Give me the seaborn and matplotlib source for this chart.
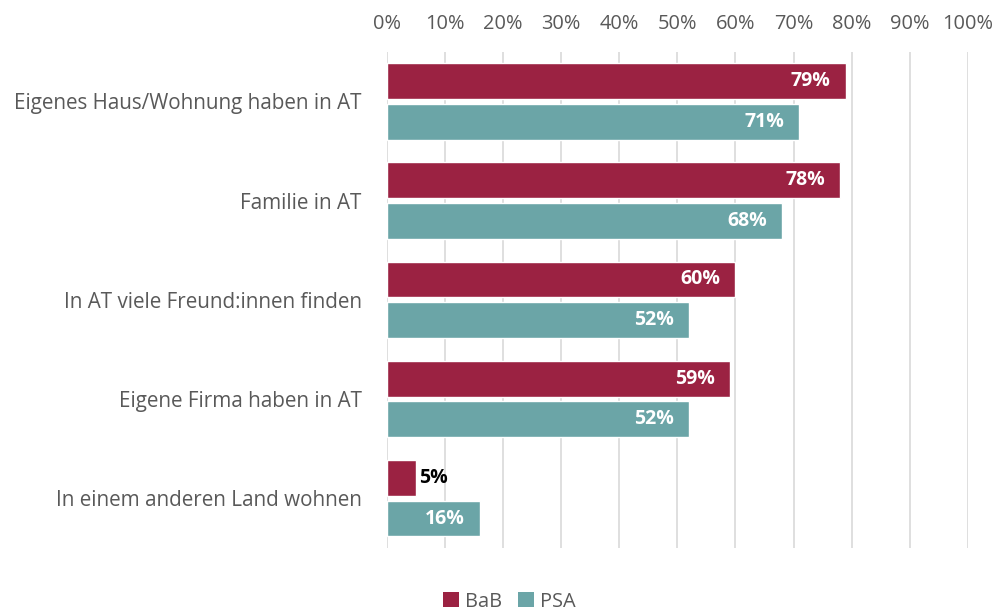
import matplotlib
matplotlib.use("Agg")
import matplotlib.pyplot as plt
import seaborn as sns
import pandas as pd
from matplotlib.patches import Patch

categories = ["Eigenes Haus/Wohnung haben in AT", "Familie in AT",
              "In AT viele Freund:innen finden", "Eigene Firma haben in AT",
              "In einem anderen Land wohnen"]
bab = [79, 78, 60, 59, 5]
psa = [71, 68, 52, 52, 16]
series = ["BaB", "PSA"]
xticks = list(range(0, 101, 10))

colors = {"BaB": "#9B2242", "PSA": "#6BA5A7"}

df = pd.DataFrame({
    "cat": categories * 2,
    "val": bab + psa,
    "series": ["BaB"] * len(bab) + ["PSA"] * len(psa),
})

sns.set_style("white")
plt.rcParams["font.family"] = ["Open Sans", "DejaVu Sans"]

fig = plt.figure(figsize=(9.99, 6.1), dpi=100)
ax = fig.add_axes([0.387, 0.102, 0.582, 0.813])

sns.barplot(data=df, y="cat", x="val", hue="series", order=categories,
            hue_order=series, palette=colors, orient="h", width=0.82,
            gap=0.12, ax=ax, legend=False, saturation=1)

ax.set_xlim(0, 100)
ax.set_ylim(len(categories) - 0.5, -0.5)
ax.set_xticks(xticks)
ax.set_xticklabels([f"{t}%" for t in xticks])
ax.xaxis.tick_top()
ax.tick_params(axis="x", length=0, pad=13, labelsize=14.4, labelcolor="#595959")
ax.tick_params(axis="y", length=0, pad=18, labelsize=14.9, labelcolor="#595959")
ax.set_xlabel("")
ax.set_ylabel("")
ax.grid(axis="x", color="#D9D9D9", linewidth=1.2)
ax.set_axisbelow(True)
for s in ax.spines.values():
    s.set_visible(False)

for container, vals in zip(ax.containers, [bab, psa]):
    for rect, v in zip(container, vals):
        y = rect.get_y() + rect.get_height() / 2
        w = rect.get_width()
        if v < 10:
            ax.text(w + 0.5, y, f"{v}%", ha="left", va="center",
                    fontsize=14, fontweight="bold", color="black")
        else:
            ax.text(w - 2.6, y, f"{v}%", ha="right", va="center",
                    fontsize=14, fontweight="bold", color="white")

handles = [Patch(facecolor=colors[s], edgecolor="none", label=s) for s in series]
fig.legend(handles=handles, loc="lower center", bbox_to_anchor=(0.51, -0.032),
           ncol=2, frameon=False, fontsize=14.4, handlelength=0.8,
           handleheight=0.8, handletextpad=0.3, columnspacing=0.8,
           labelcolor="#595959")

fig.savefig("out.png", dpi=100)
